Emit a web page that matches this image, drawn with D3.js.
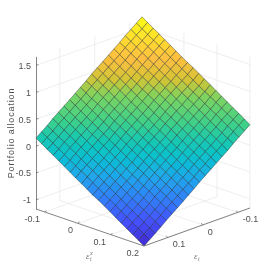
<!DOCTYPE html>
<html>
<head>
<meta charset="utf-8" />
<title>Portfolio allocation</title>
<script src="https://cdn.jsdelivr.net/npm/d3@7"></script>
<style>
	html, body { margin: 0; padding: 0; background: #fff; }
	svg { display: block; }
	text { font-family: "Liberation Sans", sans-serif; fill: #505050; }
</style>
</head>
<body>
<svg id="chart" width="277" height="277"></svg>

<script type="text/javascript">
var xGrid = [-0.127,-0.110,-0.093,-0.075,-0.058,-0.041,-0.024,-0.007,0.011,0.028,0.045,0.062,0.080,0.097,0.114,0.131,0.148,0.166,0.183,0.200];
var yGrid = [-0.135,-0.119,-0.103,-0.087,-0.071,-0.055,-0.039,-0.023,-0.007,0.009,0.025,0.041,0.056,0.072,0.088,0.104,0.120,0.136,0.152,0.168];

// rows follow yGrid, columns follow xGrid
var allocation = [
	[1.70,1.63,1.56,1.49,1.42,1.35,1.28,1.21,1.14,1.08,1.01,0.94,0.87,0.80,0.73,0.66,0.59,0.52,0.45,0.38],
	[1.62,1.55,1.48,1.41,1.34,1.27,1.20,1.13,1.06,0.99,0.92,0.85,0.78,0.72,0.65,0.58,0.51,0.44,0.37,0.30],
	[1.54,1.47,1.40,1.33,1.26,1.19,1.12,1.05,0.98,0.91,0.84,0.77,0.70,0.63,0.56,0.50,0.43,0.36,0.29,0.22],
	[1.46,1.39,1.32,1.25,1.18,1.11,1.04,0.97,0.90,0.83,0.76,0.69,0.62,0.55,0.48,0.41,0.34,0.27,0.20,0.14],
	[1.37,1.31,1.24,1.17,1.10,1.03,0.96,0.89,0.82,0.75,0.68,0.61,0.54,0.47,0.40,0.33,0.26,0.19,0.12,0.05],
	[1.29,1.22,1.15,1.08,1.01,0.95,0.88,0.81,0.74,0.67,0.60,0.53,0.46,0.39,0.32,0.25,0.18,0.11,0.04,-0.03],
	[1.21,1.14,1.07,1.00,0.93,0.86,0.79,0.73,0.66,0.59,0.52,0.45,0.38,0.31,0.24,0.17,0.10,0.03,-0.04,-0.11],
	[1.13,1.06,0.99,0.92,0.85,0.78,0.71,0.64,0.57,0.50,0.43,0.37,0.30,0.23,0.16,0.09,0.02,-0.05,-0.12,-0.19],
	[1.05,0.98,0.91,0.84,0.77,0.70,0.63,0.56,0.49,0.42,0.35,0.28,0.21,0.14,0.07,0.01,-0.06,-0.13,-0.20,-0.27],
	[0.97,0.90,0.83,0.76,0.69,0.62,0.55,0.48,0.41,0.34,0.27,0.20,0.13,0.06,-0.01,-0.08,-0.15,-0.22,-0.29,-0.35],
	[0.88,0.82,0.75,0.68,0.61,0.54,0.47,0.40,0.33,0.26,0.19,0.12,0.05,-0.02,-0.09,-0.16,-0.23,-0.30,-0.37,-0.44],
	[0.80,0.73,0.66,0.60,0.53,0.46,0.39,0.32,0.25,0.18,0.11,0.04,-0.03,-0.10,-0.17,-0.24,-0.31,-0.38,-0.45,-0.52],
	[0.72,0.65,0.58,0.51,0.44,0.37,0.30,0.24,0.17,0.10,0.03,-0.04,-0.11,-0.18,-0.25,-0.32,-0.39,-0.46,-0.53,-0.60],
	[0.64,0.57,0.50,0.43,0.36,0.29,0.22,0.15,0.08,0.01,-0.06,-0.13,-0.20,-0.26,-0.33,-0.40,-0.47,-0.54,-0.61,-0.68],
	[0.56,0.49,0.42,0.35,0.28,0.21,0.14,0.07,0.00,-0.07,-0.14,-0.21,-0.28,-0.35,-0.42,-0.48,-0.55,-0.62,-0.69,-0.76],
	[0.48,0.41,0.34,0.27,0.20,0.13,0.06,-0.01,-0.08,-0.15,-0.22,-0.29,-0.36,-0.43,-0.50,-0.57,-0.64,-0.71,-0.78,-0.84],
	[0.40,0.33,0.26,0.19,0.12,0.05,-0.02,-0.09,-0.16,-0.23,-0.30,-0.37,-0.44,-0.51,-0.58,-0.65,-0.72,-0.79,-0.86,-0.93],
	[0.31,0.24,0.17,0.11,0.04,-0.03,-0.10,-0.17,-0.24,-0.31,-0.38,-0.45,-0.52,-0.59,-0.66,-0.73,-0.80,-0.87,-0.94,-1.01],
	[0.23,0.16,0.09,0.02,-0.05,-0.12,-0.19,-0.25,-0.32,-0.39,-0.46,-0.53,-0.60,-0.67,-0.74,-0.81,-0.88,-0.95,-1.02,-1.09],
	[0.15,0.08,0.01,-0.06,-0.13,-0.20,-0.27,-0.34,-0.41,-0.48,-0.55,-0.61,-0.68,-0.75,-0.82,-0.89,-0.96,-1.03,-1.10,-1.17]
];

var xTicks = [-0.1, 0, 0.1, 0.2];
var yTicks = [-0.1, 0, 0.1];
var zTicks = [-1, -0.5, 0, 0.5, 1, 1.5];
var zTickLabels = ["-1", "-0.5", "0", "0.5", "1", "1.5"];
var xTickLabels = ["-0.1", "0", "0.1", "0.2"];
var yTickLabels = ["-0.1", "0", "0.1"];
var zTitle = "Portfolio allocation";

// colours, low to high
var colorValues = [-1.17, -0.87, -0.56, -0.30, -0.06, 0.14, 0.37, 0.70, 0.92, 1.18, 1.44, 1.70];
var colorStops = ["#4026c8","#4450ff","#3082fa","#1fa8ea","#08c0d0","#16c8b4","#3cd08a","#7cd460","#d4c434","#ffbe40","#ffe02c","#fbfd14"];

var zFloor = -1.17, zTop = 1.67;

/* oblique projection: each data axis moves the point along its own screen direction */
var origin = { x: 142, y: 171 };
var xToDx = d3.scaleLinear().domain([-0.127, 0.2]).range([0, 108]);
var xToDy = d3.scaleLinear().domain([-0.127, 0.2]).range([0, 37]);
var yToDx = d3.scaleLinear().domain([-0.135, 0.168]).range([0, -106]);
var yToDy = d3.scaleLinear().domain([-0.135, 0.168]).range([0, 38]);
var zToDy = d3.scaleLinear().domain([zFloor, zTop]).range([0, -152.6]);

function project(x, y, z) {
	return [
		origin.x + xToDx(x) + yToDx(y),
		origin.y + xToDy(x) + yToDy(y) + zToDy(z)
	];
}

var xMin = xGrid[0], xMax = xGrid[xGrid.length - 1],
    yMin = yGrid[0], yMax = yGrid[yGrid.length - 1];

var color = d3.scaleLinear().domain(colorValues).range(colorStops);

var svg = d3.select("#chart");

svg.append("defs").append("filter").attr("id", "soft")
	.append("feGaussianBlur").attr("stdDeviation", 0.45);

var chart = svg.append("g").attr("filter", "url(#soft)");

function line(g, a, b, stroke, width) {
	g.append("line")
		.attr("x1", a[0]).attr("y1", a[1])
		.attr("x2", b[0]).attr("y2", b[1])
		.attr("stroke", stroke)
		.attr("stroke-width", width);
}

/* walls and floor grid */
var grid = chart.append("g");
var gridColor = "#e6e6e6";
zTicks.forEach(function(z) {
	line(grid, project(xMin, yMax, z), project(xMin, yMin, z), gridColor, 0.7);
	line(grid, project(xMin, yMin, z), project(xMax, yMin, z), gridColor, 0.7);
});
yTicks.forEach(function(y) {
	line(grid, project(xMin, y, zFloor), project(xMin, y, zTop), gridColor, 0.7);
	line(grid, project(xMin, y, zFloor), project(xMax, y, zFloor), gridColor, 0.7);
});
xTicks.forEach(function(x) {
	line(grid, project(x, yMin, zFloor), project(x, yMin, zTop), gridColor, 0.7);
	line(grid, project(x, yMin, zFloor), project(x, yMax, zFloor), gridColor, 0.7);
});

/* surface, back to front */
var cells = [];
yGrid.slice(0, -1).forEach(function(y, j) {
	xGrid.slice(0, -1).forEach(function(x, i) {
		cells.push({ i: i, j: j });
	});
});
cells.sort(function(a, b) { return (a.i + a.j) - (b.i + b.j); });

chart.append("g").selectAll("path")
	.data(cells)
	.enter().append("path")
	.attr("d", function(c) {
		var i = c.i, j = c.j;
		return "M" + [
			project(xGrid[i], yGrid[j], allocation[j][i]),
			project(xGrid[i + 1], yGrid[j], allocation[j][i + 1]),
			project(xGrid[i + 1], yGrid[j + 1], allocation[j + 1][i + 1]),
			project(xGrid[i], yGrid[j + 1], allocation[j + 1][i])
		].join("L") + "Z";
	})
	.attr("fill", function(c) {
		var i = c.i, j = c.j;
		return color((allocation[j][i] + allocation[j][i + 1] + allocation[j + 1][i + 1] + allocation[j + 1][i]) / 4);
	})
	.attr("stroke", "#101a20")
	.attr("stroke-opacity", 0.62)
	.attr("stroke-width", 0.6);

/* axes */
var axisColor = "#666";
var axes = chart.append("g");

var zAxisScale = d3.scaleLinear()
	.domain(zToDy.domain())
	.range([project(xMin, yMax, zFloor)[1], project(xMin, yMax, zTop)[1]]);
var zAxis = d3.axisLeft(zAxisScale)
	.tickValues(zTicks)
	.tickSize(0)
	.tickPadding(5)
	.tickFormat(function(d, i) { return zTickLabels[i]; });
var zG = axes.append("g")
	.attr("transform", "translate(" + project(xMin, yMax, zFloor)[0] + ",0)")
	.call(zAxis);
zG.select(".domain").attr("stroke", axisColor).attr("stroke-width", 0.8);
zG.selectAll("text").style("font-size", "9px").style("font-family", "Liberation Sans");
zTicks.forEach(function(z) {
	var p = project(xMin, yMax, z);
	line(axes, p, [p[0] + 2.5, p[1] - 0.9], axisColor, 0.7);
});

line(axes, project(xMin, yMax, zFloor), project(xMax, yMax, zFloor), axisColor, 0.8);
line(axes, project(xMax, yMin, zFloor), project(xMax, yMax, zFloor), axisColor, 0.8);

xTicks.forEach(function(x, i) {
	var p = project(x, yMax, zFloor);
	line(axes, p, [p[0] + 1.5, p[1] - 1.8], axisColor, 0.7);
	axes.append("text")
		.attr("x", p[0] - 5).attr("y", p[1] + 10)
		.attr("text-anchor", "end")
		.style("font-size", "9px")
		.text(xTickLabels[i]);
});
yTicks.forEach(function(y, i) {
	var p = project(xMax, y, zFloor);
	line(axes, p, [p[0] - 1.5, p[1] - 1.8], axisColor, 0.7);
	axes.append("text")
		.attr("x", p[0] + 5).attr("y", p[1] + 10)
		.attr("text-anchor", "start")
		.style("font-size", "9px")
		.text(yTickLabels[i]);
});

/* titles */
axes.append("text")
	.attr("transform", "translate(14,133) rotate(-90)")
	.attr("text-anchor", "middle")
	.style("font-size", "9px")
	.style("letter-spacing", "0.85px")
	.text(zTitle);

var epsX = axes.append("text")
	.attr("x", 86).attr("y", 259)
	.style("font-family", "Liberation Serif")
	.style("font-size", "9px")
	.style("font-style", "italic")
	.style("fill", "#777");
epsX.append("tspan").text("ε");
epsX.append("tspan").attr("dx", 0.5).attr("dy", 2).style("font-size", "6px").text("t");
epsX.append("tspan").attr("dx", -1.7).attr("dy", -6).style("font-size", "6px").text("x");

var epsT = axes.append("text")
	.attr("x", 194).attr("y", 259)
	.style("font-family", "Liberation Serif")
	.style("font-size", "9px")
	.style("font-style", "italic")
	.style("fill", "#777");
epsT.append("tspan").text("ε");
epsT.append("tspan").attr("dx", 0.5).attr("dy", 2).style("font-size", "6px").text("t");
</script>
</body>
</html>
